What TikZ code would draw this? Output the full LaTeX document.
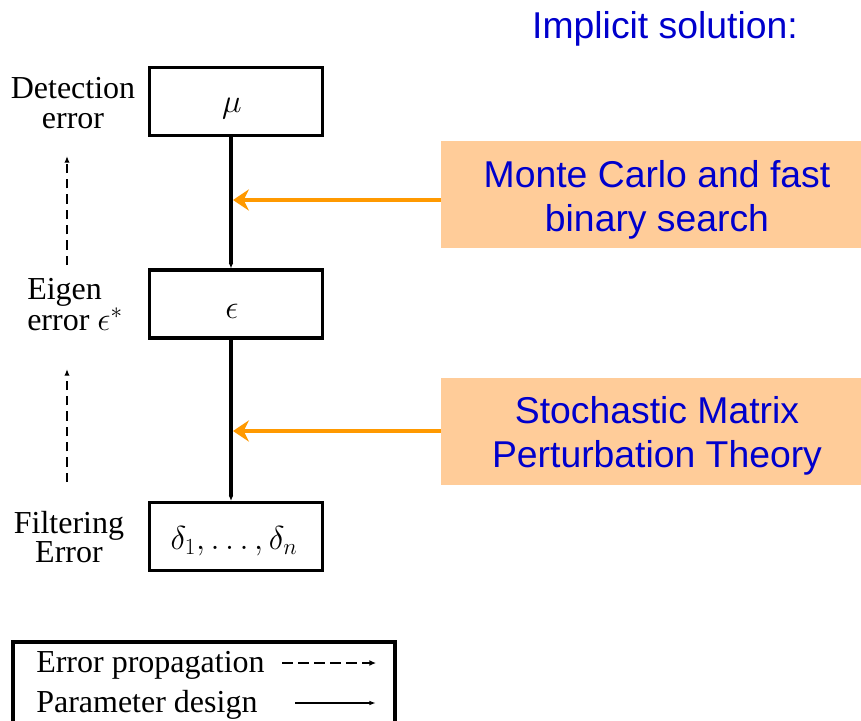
\documentclass[tikz,border=0pt]{standalone}
\usepackage{fontspec}
\setmainfont{Liberation Serif}
\newfontfamily\slidesans{Liberation Sans}
\usetikzlibrary{arrows.meta}
\definecolor{slideblue}{HTML}{0000CC}
\definecolor{peach}{HTML}{FFCC99}
\definecolor{arroworange}{HTML}{FF9900}
\begin{document}
\begin{tikzpicture}[x=0.75pt,y=-0.75pt,
  stage/.style={draw=black,line width=2.5pt,minimum width=130pt,minimum height=51pt,
    inner sep=0pt},
  stagemath/.style={inner sep=0pt,font=\fontsize{23}{24}\selectfont},
  sidelabel/.style={align=center,font=\fontsize{24}{22}\selectfont,inner sep=0pt},
  method/.style={fill=peach,minimum width=324pt,minimum height=80pt,inner sep=0pt},
  methodtext/.style={text=slideblue,align=center,inner sep=0pt,
    font=\slidesans\fontsize{28}{33}\selectfont},
  design/.style={line width=2.3pt,-{Latex[length=4pt,width=3.5pt]}},
  propagation/.style={line width=1.6pt,dash pattern=on 7pt off 4.5pt,-{Latex[length=5pt,width=4pt]}},
  feed/.style={draw=arroworange,line width=3.6pt,-{Stealth[length=12pt,width=16pt,inset=4pt]}},
  legendtext/.style={anchor=west,inner sep=0pt,font=\fontsize{24}{22}\selectfont}]
\useasboundingbox (0,0) rectangle (861,721);

% title
\node[methodtext] (title) at (665,29) {Implicit solution:};

% stages
\node[stage] (mu) at (236,101.5) {};
\node[stage] (eps) at (236,304) {};
\node[stage] (del) at (236,536.5) {};
\node[stagemath] (mum) at (232,109) {$\mu$};
\node[stagemath] (epsm) at (232,311) {$\epsilon$};
\node[stagemath] (delm) at (234,541) {$\delta_1,\ldots,\delta_n$};

% stage labels
\node[sidelabel] (lmu) at (73,103) {Detection\\error};
\node[sidelabel,align=left,anchor=west] (leps) at (27,305) {Eigen\\error $\epsilon^{*}$};
\node[sidelabel] (ldel) at (69,537) {Filtering\\Error};

% parameter design chain (spine sits left of the box centres)
\coordinate (s1) at (231,137);
\coordinate (s2) at (231,268);
\coordinate (s3) at (231,340);
\coordinate (s4) at (231,501);
\draw[design] (mu.south -| s1) -- (eps.north -| s2);
\draw[design] (eps.south -| s3) -- (del.north -| s4);

% error propagation
\coordinate (p1s) at (67,265);
\coordinate (p1e) at (67,156);
\coordinate (p2s) at (67,482);
\coordinate (p2e) at (67,369);
\draw[propagation] (p1s) -- (p1e);
\draw[propagation] (p2s) -- (p2e);

% methods (boxes run off the right edge)
\node[method] (mc) at (657,194.5) {};
\node[method] (smpt) at (657,431.5) {};
\node[methodtext] (mct) at (657,200) {Monte Carlo and fast\\binary search};
\node[methodtext] (smptt) at (657,436) {Stochastic Matrix\\Perturbation Theory};
\coordinate (h1) at (233,200);
\coordinate (h2) at (233,431);
\draw[feed] (mc.west |- h1) -- (h1);
\draw[feed] (smpt.west |- h2) -- (h2);

% legend
\begin{scope}
\clip (0,0) rectangle (861,721);
\draw[line width=2.5pt] (13,642) rectangle (395,740);
\end{scope}
\node[legendtext] (lg1) at (36,665) {Error propagation};
\node[legendtext] (lg2) at (36,705) {Parameter design};
\coordinate (lg1s) at (282,663);
\coordinate (lg1e) at (376,663);
\coordinate (lg2s) at (295,703);
\coordinate (lg2e) at (376,703);
\draw[line width=2pt,dash pattern=on 8pt off 4pt,-{Latex[length=5pt,width=4.5pt]}] (lg1s) -- (lg1e);
\draw[line width=1pt,-{Latex[length=5pt,width=3.5pt]}] (lg2s) -- (lg2e);
\end{tikzpicture}
\end{document}
